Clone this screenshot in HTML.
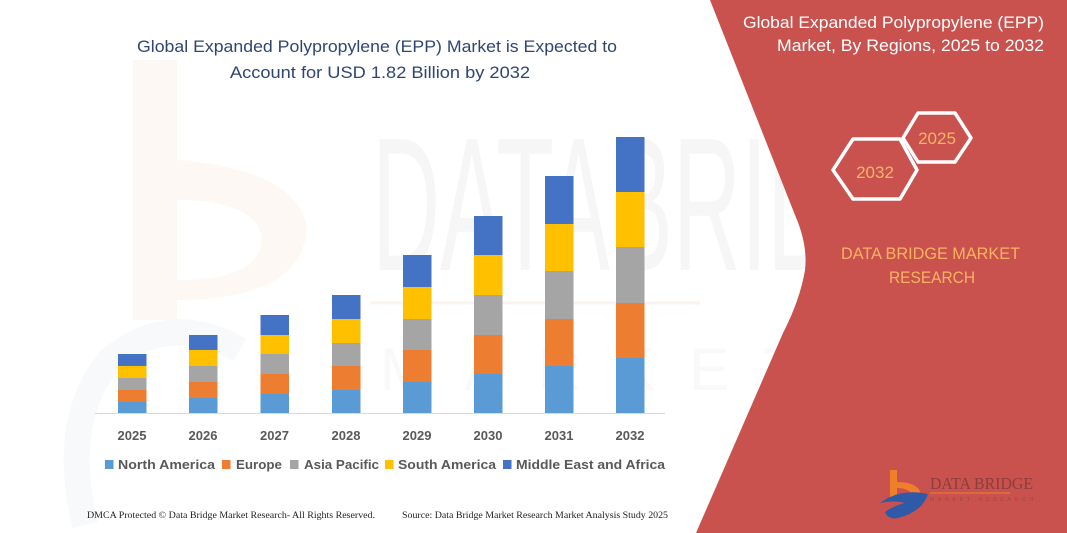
<!DOCTYPE html>
<html><head><meta charset="utf-8"><style>
html,body{margin:0;padding:0;background:#fff;width:1067px;height:533px;overflow:hidden;}
svg{display:block;}
text{font-family:"Liberation Sans",sans-serif;}
</style></head><body>
<svg width="1067" height="533" viewBox="0 0 1067 533" xmlns="http://www.w3.org/2000/svg">
<rect width="1067" height="533" fill="#ffffff"/>
<!-- faint watermark left logo -->
<path d="M133,60 L177,60 L177,160 Q300,170 307,230 Q300,300 177,300 L177,320 L133,320 Z" fill="#fef8f4"/>
<path d="M177,200 L177,280 Q260,280 262,240 Q258,200 177,200 Z" fill="#ffffff"/>
<path d="M85,525 Q60,420 110,360 Q170,310 240,350" fill="none" stroke="#f7f9fb" stroke-width="26"/>
<!-- faint watermark text -->
<text x="372" y="270" font-size="190" fill="#f6f6f6" textLength="600" lengthAdjust="spacingAndGlyphs">DATABRIDGE</text>
<line x1="370" y1="303" x2="700" y2="303" stroke="#fcf3ee" stroke-width="3"/>
<text x="380" y="390" font-size="60" fill="#f9f9f9" textLength="420" lengthAdjust="spacing">MARKET</text>
<!-- title -->
<text x="377" y="52" font-size="16.5" fill="#2f4672" text-anchor="middle" textLength="480" lengthAdjust="spacingAndGlyphs">Global Expanded Polypropylene (EPP) Market is Expected to</text>
<text x="380" y="78" font-size="16.5" fill="#2f4672" text-anchor="middle" textLength="300" lengthAdjust="spacingAndGlyphs">Account for USD 1.82 Billion by 2032</text>
<!-- bars -->
<g>
<rect x="118" y="354" width="28.5" height="12" fill="#4472c4"/><rect x="118" y="366" width="28.5" height="12" fill="#ffc000"/><rect x="118" y="378" width="28.5" height="12" fill="#a5a5a5"/><rect x="118" y="390" width="28.5" height="12" fill="#ed7d31"/><rect x="118" y="402" width="28.5" height="11" fill="#5b9bd5"/>
<rect x="189" y="335" width="28.5" height="15" fill="#4472c4"/><rect x="189" y="350" width="28.5" height="16" fill="#ffc000"/><rect x="189" y="366" width="28.5" height="16" fill="#a5a5a5"/><rect x="189" y="382" width="28.5" height="16" fill="#ed7d31"/><rect x="189" y="398" width="28.5" height="15" fill="#5b9bd5"/>
<rect x="260.5" y="315" width="28.5" height="20" fill="#4472c4"/><rect x="260.5" y="335" width="28.5" height="19" fill="#ffc000"/><rect x="260.5" y="354" width="28.5" height="20" fill="#a5a5a5"/><rect x="260.5" y="374" width="28.5" height="20" fill="#ed7d31"/><rect x="260.5" y="394" width="28.5" height="19" fill="#5b9bd5"/>
<rect x="332" y="295" width="28.5" height="24" fill="#4472c4"/><rect x="332" y="319" width="28.5" height="24" fill="#ffc000"/><rect x="332" y="343" width="28.5" height="23" fill="#a5a5a5"/><rect x="332" y="366" width="28.5" height="24" fill="#ed7d31"/><rect x="332" y="390" width="28.5" height="23" fill="#5b9bd5"/>
<rect x="403" y="255" width="28.5" height="32" fill="#4472c4"/><rect x="403" y="287" width="28.5" height="32" fill="#ffc000"/><rect x="403" y="319" width="28.5" height="31" fill="#a5a5a5"/><rect x="403" y="350" width="28.5" height="32" fill="#ed7d31"/><rect x="403" y="382" width="28.5" height="31" fill="#5b9bd5"/>
<rect x="474" y="216" width="28.5" height="39" fill="#4472c4"/><rect x="474" y="255" width="28.5" height="40" fill="#ffc000"/><rect x="474" y="295" width="28.5" height="40" fill="#a5a5a5"/><rect x="474" y="335" width="28.5" height="39" fill="#ed7d31"/><rect x="474" y="374" width="28.5" height="39" fill="#5b9bd5"/>
<rect x="545" y="176" width="28.5" height="48" fill="#4472c4"/><rect x="545" y="224" width="28.5" height="47" fill="#ffc000"/><rect x="545" y="271" width="28.5" height="48" fill="#a5a5a5"/><rect x="545" y="319" width="28.5" height="47" fill="#ed7d31"/><rect x="545" y="366" width="28.5" height="47" fill="#5b9bd5"/>
<rect x="616" y="137" width="28.5" height="55" fill="#4472c4"/><rect x="616" y="192" width="28.5" height="55" fill="#ffc000"/><rect x="616" y="247" width="28.5" height="56" fill="#a5a5a5"/><rect x="616" y="303" width="28.5" height="55" fill="#ed7d31"/><rect x="616" y="358" width="28.5" height="55" fill="#5b9bd5"/>
</g>
<line x1="95" y1="413.5" x2="665" y2="413.5" stroke="#d9d9d9" stroke-width="1"/>
<!-- year labels -->
<g font-size="13" font-weight="bold" fill="#595959" text-anchor="middle">
<text x="132" y="440">2025</text><text x="203" y="440">2026</text><text x="274.5" y="440">2027</text><text x="346" y="440">2028</text><text x="417" y="440">2029</text><text x="488" y="440">2030</text><text x="559" y="440">2031</text><text x="630" y="440">2032</text>
</g>
<!-- legend -->
<g font-size="13" font-weight="bold" fill="#595959">
<rect x="105" y="460" width="8.5" height="9" fill="#5b9bd5"/><text x="118" y="469" textLength="97" lengthAdjust="spacingAndGlyphs">North America</text>
<rect x="222" y="460" width="8.5" height="9" fill="#ed7d31"/><text x="236" y="469" textLength="46" lengthAdjust="spacingAndGlyphs">Europe</text>
<rect x="290" y="460" width="8.5" height="9" fill="#a5a5a5"/><text x="304" y="469" textLength="75" lengthAdjust="spacingAndGlyphs">Asia Pacific</text>
<rect x="385" y="460" width="8.5" height="9" fill="#ffc000"/><text x="398" y="469" textLength="98" lengthAdjust="spacingAndGlyphs">South America</text>
<rect x="503" y="460" width="8.5" height="9" fill="#4472c4"/><text x="516" y="469" textLength="149" lengthAdjust="spacingAndGlyphs">Middle East and Africa</text>
</g>
<!-- footer -->
<g font-size="9.5" fill="#222">
<text x="87" y="518" style="font-family:'Liberation Serif',serif" textLength="288" lengthAdjust="spacingAndGlyphs">DMCA Protected © Data Bridge Market Research-  All Rights Reserved.</text>
<text x="402" y="518" style="font-family:'Liberation Serif',serif" textLength="266" lengthAdjust="spacingAndGlyphs">Source: Data Bridge Market Research  Market Analysis Study 2025</text>
</g>
<!-- red panel -->
<path d="M710,0 L1067,0 L1067,533 L696,533 L783,333 Q800,300 805,270 Q808,245 795,215 Z" fill="#c9514e"/>
<!-- right title -->
<text x="1044" y="28" font-size="16.5" fill="#ffffff" text-anchor="end" textLength="301" lengthAdjust="spacingAndGlyphs">Global Expanded Polypropylene (EPP)</text>
<text x="1044" y="51" font-size="16.5" fill="#ffffff" text-anchor="end" textLength="267" lengthAdjust="spacingAndGlyphs">Market, By Regions, 2025 to 2032</text>
<!-- hexagons -->
<polygon points="833,170 853,139 900,139 917,170 900,199 853,199" fill="none" stroke="#ffffff" stroke-width="3.5" stroke-linejoin="round"/>
<polygon points="903,138 918,113 955,113 971,138 955,162 918,162" fill="none" stroke="#ffffff" stroke-width="3.5" stroke-linejoin="round"/>
<text x="875" y="178" font-size="17" fill="#f7b46a" text-anchor="middle">2032</text>
<text x="937" y="144" font-size="17" fill="#f7b46a" text-anchor="middle">2025</text>
<!-- DBMR text -->
<text x="930.5" y="259" font-size="16.5" fill="#f9b360" text-anchor="middle" textLength="179" lengthAdjust="spacingAndGlyphs">DATA BRIDGE MARKET</text>
<text x="932" y="283" font-size="16.5" fill="#f9b360" text-anchor="middle" textLength="86" lengthAdjust="spacingAndGlyphs">RESEARCH</text>
<!-- logo -->
<path d="M890,470 L897,470 L897,482 Q918,482 921,494 L914,500 Q912,488 897,488 L897,497 L890,497 Z" fill="#f07f2c"/>
<path d="M880,503 Q900,488 928,494 Q922,512 898,518 Q888,520 885,512 Q895,505 905,503 Q895,500 880,503 Z" fill="#2e5aa8"/>
<text x="930" y="489" font-size="17" fill="#8a3e3e" style="font-family:'Liberation Serif',serif" textLength="103" lengthAdjust="spacingAndGlyphs">DATA BRIDGE</text>
<line x1="930" y1="493" x2="1010" y2="493" stroke="#f07f2c" stroke-width="1"/>
<text x="930" y="501" font-size="5" fill="#9a4a4a" textLength="103" lengthAdjust="spacing">MARKET RESEARCH</text>
</svg>
</body></html>
